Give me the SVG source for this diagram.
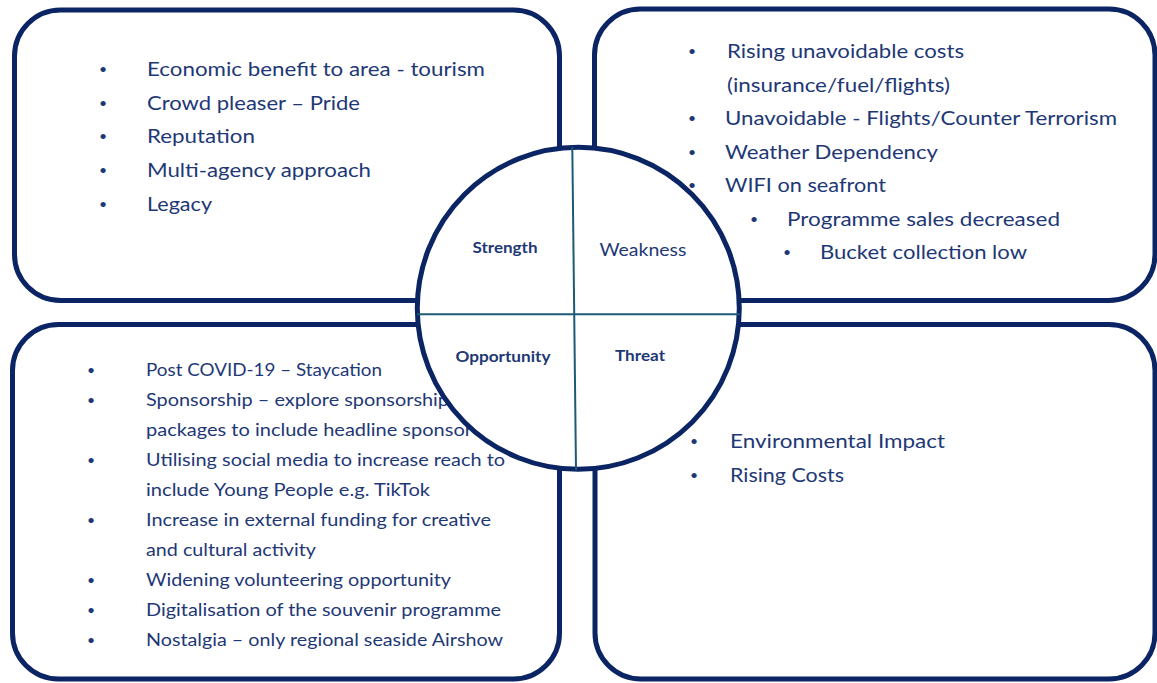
<svg xmlns="http://www.w3.org/2000/svg" width="1157" height="683" viewBox="0 0 1157 683">
<style>
.box{fill:#ffffff;stroke:#0b2463;stroke-width:5}
.t{font-family:Lato,"Open Sans","Liberation Sans",sans-serif;fill:#1e3876}
.big{font-size:19.5px}
.sm{font-size:17px}
.lab{font-size:14.5px;font-weight:bold;text-anchor:middle}
.labr{font-size:17px;text-anchor:middle}
.b{text-anchor:middle;font-size:14px}
.q{stroke:#1d5a76;stroke-width:2;fill:none}
</style>
<rect width="1157" height="683" fill="#ffffff"/>

<g id="strength-box">
<rect class="box" x="14.5" y="10" width="545" height="290.5" rx="46"/>
<g class="t big">
<text class="b" x="103" y="74">•</text><text x="147" y="76" textLength="338" lengthAdjust="spacingAndGlyphs">Economic benefit to area - tourism</text>
<text class="b" x="103" y="107.7">•</text><text x="147" y="109.7" textLength="213" lengthAdjust="spacingAndGlyphs">Crowd pleaser – Pride</text>
<text class="b" x="103" y="141.4">•</text><text x="147" y="143.4" textLength="108" lengthAdjust="spacingAndGlyphs">Reputation</text>
<text class="b" x="103" y="175.1">•</text><text x="147" y="177.1" textLength="224" lengthAdjust="spacingAndGlyphs">Multi-agency approach</text>
<text class="b" x="103" y="208.8">•</text><text x="147" y="210.8" textLength="65" lengthAdjust="spacingAndGlyphs">Legacy</text>
</g>
</g>

<g id="weakness-box">
<rect class="box" x="594.5" y="9" width="560.5" height="291.5" rx="46"/>
<g class="t big">
<text class="b" x="692" y="56">•</text><text x="727" y="58" textLength="237" lengthAdjust="spacingAndGlyphs">Rising unavoidable costs</text>
<text x="727" y="91.5" textLength="223" lengthAdjust="spacingAndGlyphs">(insurance/fuel/flights)</text>
<text class="b" x="692" y="123">•</text><text x="725" y="125" textLength="392" lengthAdjust="spacingAndGlyphs">Unavoidable - Flights/Counter Terrorism</text>
<text class="b" x="692" y="156.5">•</text><text x="725" y="158.5" textLength="213" lengthAdjust="spacingAndGlyphs">Weather Dependency</text>
<text class="b" x="692" y="190">•</text><text x="725" y="192" textLength="161" lengthAdjust="spacingAndGlyphs">WIFI on seafront</text>
<text class="b" x="754" y="223.5">•</text><text x="787" y="225.5" textLength="273" lengthAdjust="spacingAndGlyphs">Programme sales decreased</text>
<text class="b" x="787" y="257">•</text><text x="820" y="259" textLength="207" lengthAdjust="spacingAndGlyphs">Bucket collection low</text>
</g>
</g>

<g id="opportunity-box">
<rect class="box" x="12.5" y="324.5" width="547" height="354.5" rx="46"/>
<g class="t sm">
<text class="b" x="91" y="374.5">•</text><text x="146" y="375.5" textLength="236" lengthAdjust="spacingAndGlyphs">Post COVID-19 – Staycation</text>
<text class="b" x="91" y="404.5">•</text><text x="146" y="405.5" textLength="303" lengthAdjust="spacingAndGlyphs">Sponsorship – explore sponsorship</text>
<text x="146" y="435.5" textLength="326" lengthAdjust="spacingAndGlyphs">packages to include headline sponsor</text>
<text class="b" x="91" y="464.5">•</text><text x="146" y="465.5" textLength="359" lengthAdjust="spacingAndGlyphs">Utilising social media to increase reach to</text>
<text x="146" y="495.5" textLength="284" lengthAdjust="spacingAndGlyphs">include Young People e.g. TikTok</text>
<text class="b" x="91" y="524.5">•</text><text x="146" y="525.5" textLength="345" lengthAdjust="spacingAndGlyphs">Increase in external funding for creative</text>
<text x="146" y="555.5" textLength="170" lengthAdjust="spacingAndGlyphs">and cultural activity</text>
<text class="b" x="91" y="584.5">•</text><text x="146" y="585.5" textLength="305" lengthAdjust="spacingAndGlyphs">Widening volunteering opportunity</text>
<text class="b" x="91" y="614.5">•</text><text x="146" y="615.5" textLength="355" lengthAdjust="spacingAndGlyphs">Digitalisation of the souvenir programme</text>
<text class="b" x="91" y="644.5">•</text><text x="146" y="645.5" textLength="357" lengthAdjust="spacingAndGlyphs">Nostalgia – only regional seaside Airshow</text>
</g>
</g>

<g id="threat-box">
<rect class="box" x="595" y="324.5" width="560" height="354.5" rx="46"/>
<g class="t big">
<text class="b" x="694" y="446">•</text><text x="730" y="448" textLength="215" lengthAdjust="spacingAndGlyphs">Environmental Impact</text>
<text class="b" x="694" y="480">•</text><text x="730" y="482" textLength="114" lengthAdjust="spacingAndGlyphs">Rising Costs</text>
</g>
</g>

<g id="swot-circle">
<circle cx="578.3" cy="308.3" r="161" fill="#ffffff" stroke="#0b2463" stroke-width="5"/>
<line class="q" x1="572.3" y1="147" x2="576" y2="470"/>
<line class="q" x1="417" y1="314.3" x2="740" y2="314.3"/>
<g class="t">
<text class="lab" x="505" y="253" textLength="65" lengthAdjust="spacingAndGlyphs">Strength</text>
<text class="labr" x="643" y="256" textLength="87" lengthAdjust="spacingAndGlyphs">Weakness</text>
<text class="lab" x="503" y="362" textLength="95" lengthAdjust="spacingAndGlyphs">Opportunity</text>
<text class="lab" x="640" y="361" textLength="50" lengthAdjust="spacingAndGlyphs">Threat</text>
</g>
</g>
</svg>
